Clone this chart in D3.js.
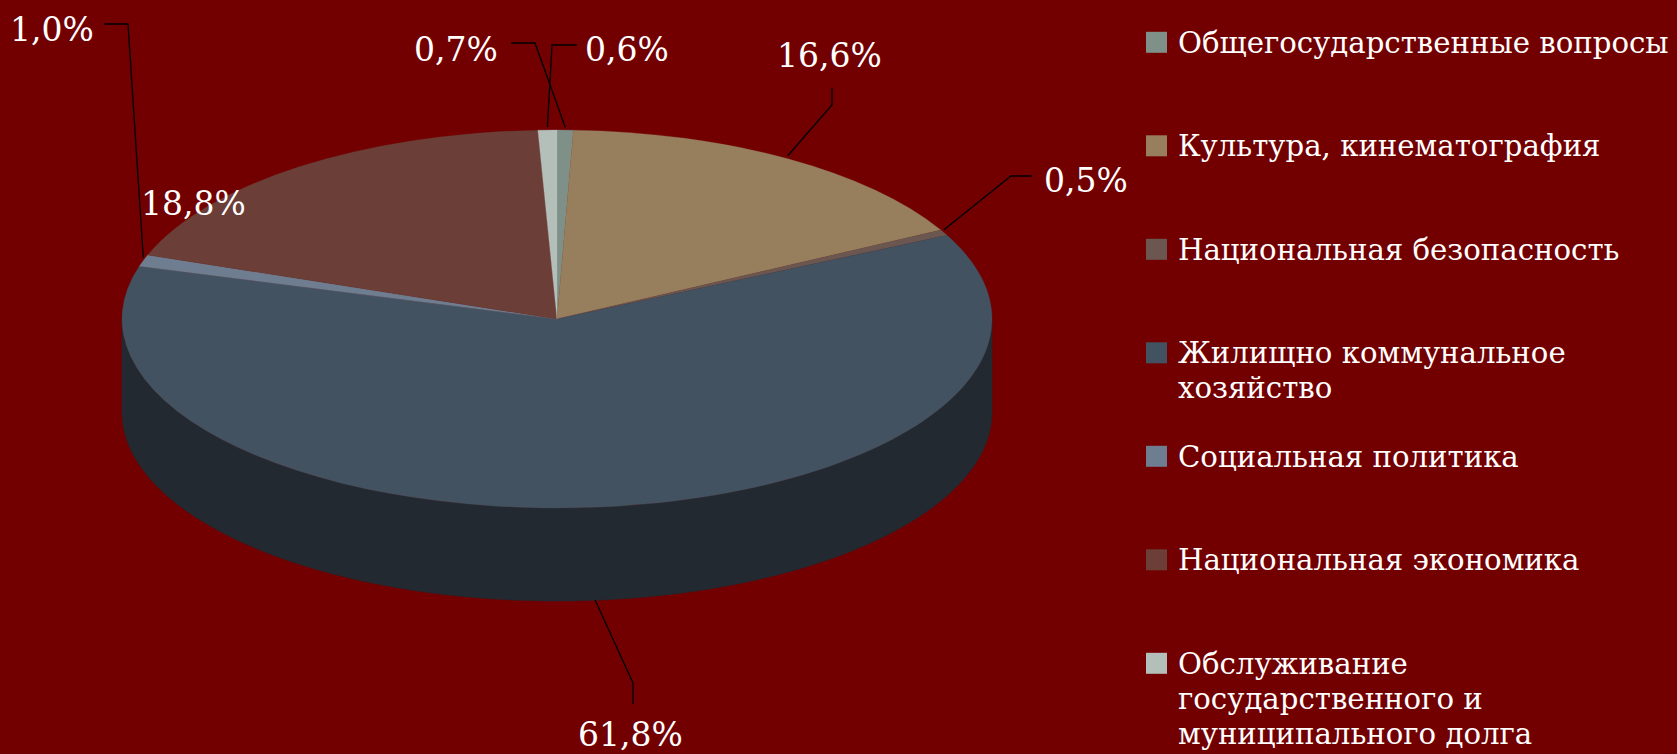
<!DOCTYPE html>
<html>
<head>
<meta charset="utf-8">
<script src="https://cdn.jsdelivr.net/npm/d3@7"></script>
<style>
  html, body { margin: 0; padding: 0; background: #720000; }
  svg { display: block; }
</style>
</head>
<body>
<svg id="chart" width="1677" height="754"></svg>
<script>
// ---- data ----
const categories = [
  "Общегосударственные вопросы",
  "Культура, кинематография",
  "Национальная безопасность",
  "Жилищно коммунальное хозяйство",
  "Социальная политика",
  "Национальная экономика",
  "Обслуживание государственного и муниципального долга"
];
const values = [0.6, 16.6, 0.5, 61.8, 1.0, 18.8, 0.7];
const valueLabels = ["0,6%", "16,6%", "0,5%", "61,8%", "1,0%", "18,8%", "0,7%"];
const colors = ["#7f9089", "#977e5c", "#6b5750", "#435260", "#6e7d8f", "#6b3e37", "#b4bfba"];

// ---- layout ----
const W = 1677, H = 754;
const cx = 557, cy = 319, rx = 435, ry = 189, depth = 93;
const bg = "#720000";

// label placement (text start x, baseline y, leader elbow points, which slice the leader points at)
const labelLayout = [
  { x: 585, y: 61,  leader: [[577, 45], [552, 45]], target: 6 },
  { x: 777, y: 67,  leader: [[832, 88], [832, 105]] },
  { x: 1044, y: 192, leader: [[1032, 176], [1011, 176]] },
  { x: 578, y: 746, leader: [[633, 704], [633, 683]], bottom: true },
  { x: 10,  y: 41,  leader: [[104, 24], [128, 24]] },
  { x: 141, y: 215, leader: null },
  { x: 414, y: 61,  leader: [[511, 43], [535, 43]], target: 0 }
];

const svg = d3.select("#chart");
svg.append("rect").attr("width", W).attr("height", H).attr("fill", bg);

const pie = d3.pie().sort(null).startAngle(0).endAngle(2 * Math.PI);
const arcs = pie(values);

function ex(a) { return cx + rx * Math.sin(a); }
function ey(a) { return cy - ry * Math.cos(a); }

function darken(c, k) {
  const r = d3.rgb(c);
  return d3.rgb(r.r * k, r.g * k, r.b * k).formatHex();
}

// ---- side walls (front half only) ----
const sideG = svg.append("g");
arcs.forEach((d, i) => {
  const a0 = Math.max(d.startAngle, Math.PI / 2);
  const a1 = Math.min(d.endAngle, 3 * Math.PI / 2);
  if (a1 <= a0) return;
  const n = Math.max(4, Math.ceil((a1 - a0) / 0.01));
  const pts = [];
  for (let k = 0; k <= n; k++) {
    const a = a0 + (a1 - a0) * k / n;
    pts.push([ex(a), ey(a)]);
  }
  for (let k = n; k >= 0; k--) {
    const a = a0 + (a1 - a0) * k / n;
    pts.push([ex(a), ey(a) + depth]);
  }
  sideG.append("path")
    .attr("d", "M" + pts.map(p => p[0].toFixed(2) + "," + p[1].toFixed(2)).join("L") + "Z")
    .attr("fill", darken(colors[i], 0.5))
    .attr("stroke", darken(colors[i], 0.5))
    .attr("stroke-width", 0.5);
});

// ---- top faces ----
const arcGen = d3.arc().innerRadius(0).outerRadius(rx);
const topG = svg.append("g")
  .attr("transform", `translate(${cx},${cy}) scale(1,${ry / rx})`);
topG.selectAll("path")
  .data(arcs)
  .join("path")
  .attr("d", arcGen)
  .attr("fill", (d, i) => colors[i])
  .attr("stroke", (d, i) => colors[i])
  .attr("stroke-width", 0.4);

// ---- data labels & leader lines ----
const labG = svg.append("g");
arcs.forEach((d, i) => {
  const L = labelLayout[i];
  const td = L.target !== undefined ? arcs[L.target] : d;
  const mid = (td.startAngle + td.endAngle) / 2;
  if (L.leader) {
    let end = [ex(mid), ey(mid) - 3];
    if (L.bottom) end = [ex(mid), ey(mid) + depth];
    const pts = L.leader.concat([end]);
    labG.append("path")
      .attr("d", d3.line()(pts))
      .attr("fill", "none")
      .attr("stroke", "#000")
      .attr("stroke-width", 1.3);
  }
  labG.append("text")
    .attr("x", L.x)
    .attr("y", L.y)
    .attr("font-family", "'DejaVu Serif', serif")
    .attr("font-size", 33)
    .attr("fill", "#ffffff")
    .text(valueLabels[i]);
});

// ---- legend ----
const legX = 1146, legSw = 21, legTextX = 1178, legTop = 42.3, legStep = 103.5, lineH = 35, maxW = 500;
const legG = svg.append("g");
categories.forEach((name, i) => {
  const yc = legTop + i * legStep;
  legG.append("rect")
    .attr("x", legX).attr("y", yc - legSw / 2)
    .attr("width", legSw).attr("height", legSw)
    .attr("fill", colors[i]);
  const t = legG.append("text")
    .attr("x", legTextX)
    .attr("y", yc + 10.5)
    .attr("font-family", "'DejaVu Serif', serif")
    .attr("font-size", 29.2)
    .attr("fill", "#ffffff");
  const words = name.split(" ");
  let line = [];
  let tspan = t.append("tspan").attr("x", legTextX).attr("dy", 0);
  words.forEach(w => {
    line.push(w);
    tspan.text(line.join(" "));
    if (tspan.node().getComputedTextLength() > maxW && line.length > 1) {
      line.pop();
      tspan.text(line.join(" "));
      line = [w];
      tspan = t.append("tspan").attr("x", legTextX).attr("dy", lineH).text(w);
    }
  });
});
</script>
</body>
</html>
